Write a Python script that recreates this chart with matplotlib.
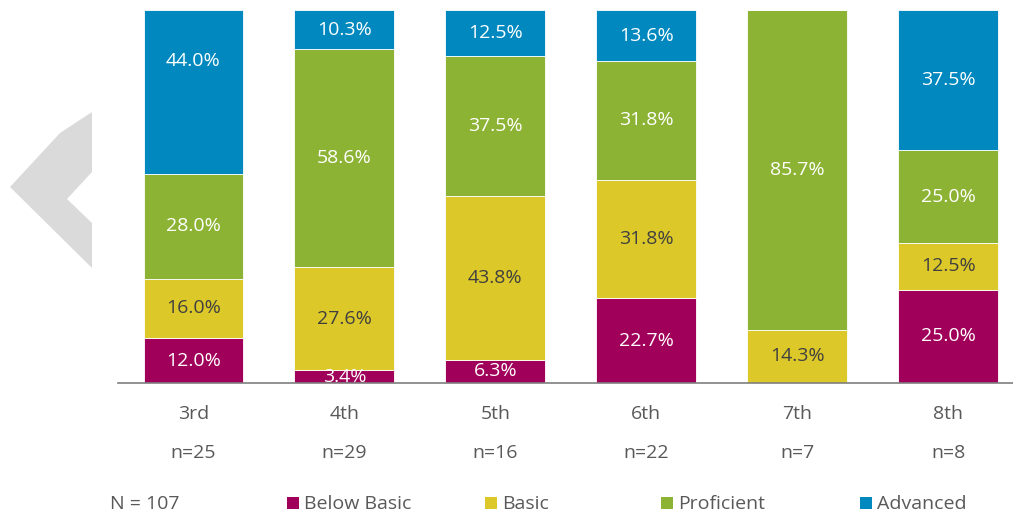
import matplotlib
matplotlib.use("Agg")
import matplotlib.pyplot as plt
from matplotlib.patches import Polygon, Rectangle
import numpy as np

plt.rcParams['font.family'] = ['Open Sans', 'DejaVu Sans']

grades = ["3rd", "4th", "5th", "6th", "7th", "8th"]
counts = ["n=25", "n=29", "n=16", "n=22", "n=7", "n=8"]
levels = ["Below Basic", "Basic", "Proficient", "Advanced"]
below_basic = [12.0, 3.4, 6.3, 22.7, 0.0, 25.0]
basic = [16.0, 27.6, 43.8, 31.8, 14.3, 12.5]
proficient = [28.0, 58.6, 37.5, 31.8, 85.7, 25.0]
advanced = [44.0, 10.3, 12.5, 13.6, 0.0, 37.5]
total_n = "N = 107"

colors = ["#A0005A", "#DCC828", "#8DB334", "#0088BF"]
text_colors = ["white", "#404040", "white", "white"]
gray = "#595959"
fs = 14

W, H = 1013, 517
fig = plt.figure(figsize=(W / 100, H / 100), dpi=100)
ax = fig.add_axes([118 / W, (H - 383) / H, 1 - 118 / W, 373 / H])

# chevron in the background
chev = [(92, 112), (60, 133), (10, 187), (92, 268), (92, 223), (67, 199), (92, 172)]
fig.patches.append(Polygon([(x / W, 1 - y / H) for x, y in chev], closed=True,
                           transform=fig.transFigure, facecolor="#DADADA",
                           edgecolor="none", zorder=0))

x = np.arange(len(grades))
bottom = np.zeros(len(grades))
for vals, col, tc in zip([below_basic, basic, proficient, advanced], colors, text_colors):
    vals = np.array(vals)
    ax.bar(x, vals, width=0.662, bottom=bottom, color=col, edgecolor="white", linewidth=0.6)
    for xi, v, b in zip(x, vals, bottom):
        if v > 0:
            y = b + v / 2
            if v > 40 and col == colors[3]:
                y = b + v * 0.69  # the big top label sits high in the original
            ax.text(xi, y, f"{v:.1f}%", ha="center", va="center",
                    color=tc, fontsize=fs)
    bottom += vals

ax.set_xlim(-0.5, 5.43)
ax.set_ylim(0, 100)
for s in ["top", "right", "left"]:
    ax.spines[s].set_visible(False)
ax.spines["bottom"].set_color("#7F7F7F")
ax.spines["bottom"].set_linewidth(1.2)
ax.set_yticks([])
ax.set_xticks(x)
ax.set_xticklabels(grades, fontsize=fs, color=gray)
ax.tick_params(axis="x", length=0, pad=16)
for xi, c in zip(x, counts):
    ax.annotate(c, (xi, 0), xytext=(0, -70), textcoords="offset pixels",
                ha="center", va="center", fontsize=fs, color=gray)

# legend row
fig.text(110 / W, 1 - 504 / H, total_n, ha="left", va="center", fontsize=fs, color=gray)
leg_x = [287, 485, 661, 860]
for lx, lab, col in zip(leg_x, levels, colors):
    fig.patches.append(Rectangle((lx / W, 1 - 509 / H), 12 / W, 12 / H,
                                 transform=fig.transFigure, facecolor=col, edgecolor="none"))
    fig.text((lx + 17) / W, 1 - 504 / H, lab, ha="left", va="center", fontsize=fs, color=gray)

fig.savefig("out.png", dpi=100)
